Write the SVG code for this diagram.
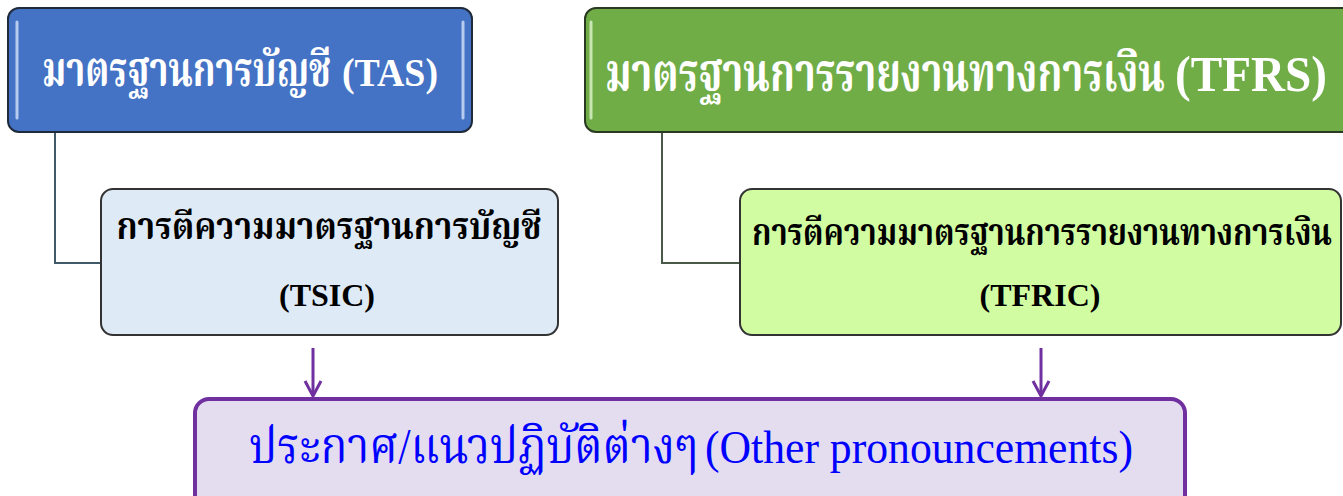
<svg xmlns="http://www.w3.org/2000/svg" width="1343" height="496" viewBox="0 0 1343 496">
<defs>
<style>
.t{font-family:"Liberation Serif","Noto Serif Thai","Noto Sans Thai","DejaVu Serif",serif}
.title{font-weight:bold;fill:#ffffff}
.sub{font-size:32px;font-weight:bold;fill:#000000;text-anchor:middle}
.bot{fill:#0000ff}
.hl{stroke:#c9dcf7;stroke-width:3;stroke-linecap:round;opacity:0.85}
.hlg{stroke:#d8f0c4;stroke-width:3;stroke-linecap:round;opacity:0.85}
.conn{fill:none;stroke-width:2}
</style>
<marker id="chev" viewBox="0 0 20 20" refX="18" refY="10" markerWidth="20" markerHeight="20" markerUnits="userSpaceOnUse" orient="auto">
<path d="M3 2 L18 10 L3 18" fill="none" stroke="#7030a0" stroke-width="3" stroke-linejoin="miter"/>
</marker>
</defs>
<rect width="1343" height="496" fill="#ffffff"/>
<g id="connectors">
<path class="conn" d="M55 132 V263 H101" stroke="#3f5a68"/>
<path class="conn" d="M662 132 V263 H740" stroke="#4a5a48"/>
<line x1="313" y1="348" x2="313" y2="396" stroke="#7030a0" stroke-width="3" marker-end="url(#chev)"/>
<line x1="1041" y1="348" x2="1041" y2="396" stroke="#7030a0" stroke-width="3" marker-end="url(#chev)"/>
</g>
<g id="tas">
<rect x="8" y="8" width="464" height="124" rx="11" fill="#4472c4" stroke="#1f2a3a" stroke-width="2"/>
<line class="hl" x1="17" y1="22" x2="17" y2="118"/>
<line class="hl" x1="463" y1="22" x2="463" y2="118"/>
<text class="t title" y="86"><tspan x="42" style="font-size:48px" textLength="289" lengthAdjust="spacingAndGlyphs">มาตรฐานการบัญชี</tspan><tspan x="342" style="font-size:40px" textLength="96" lengthAdjust="spacingAndGlyphs">(TAS)</tspan></text>
</g>
<g id="tfrs">
<rect x="585" y="8" width="770" height="124" rx="11" fill="#70ad47" stroke="#2a3a22" stroke-width="2"/>
<line class="hlg" x1="591" y1="22" x2="591" y2="118"/>
<text class="t title" y="91"><tspan x="605" style="font-size:54px" textLength="560" lengthAdjust="spacingAndGlyphs">มาตรฐานการรายงานทางการเงิน</tspan><tspan x="1175" style="font-size:50px" textLength="152" lengthAdjust="spacingAndGlyphs">(TFRS)</tspan></text>
</g>
<g id="tsic">
<rect x="101" y="189" width="457" height="146" rx="12" fill="#deeaf6" stroke="#333333" stroke-width="2"/>
<text class="t sub" x="329" y="239" style="font-size:38px" textLength="425" lengthAdjust="spacingAndGlyphs">การตีความมาตรฐานการบัญชี</text>
<text class="t sub" x="327" y="306">(TSIC)</text>
</g>
<g id="tfric">
<rect x="740" y="189" width="601" height="146" rx="12" fill="#d2fca2" stroke="#333333" stroke-width="2"/>
<text class="t sub" x="1042" y="245" style="font-size:38px" textLength="580" lengthAdjust="spacingAndGlyphs">การตีความมาตรฐานการรายงานทางการเงิน</text>
<text class="t sub" x="1040" y="306">(TFRIC)</text>
</g>
<g id="other">
<rect x="195" y="399" width="990" height="110" rx="14" fill="#e4ddf0" stroke="#7030a0" stroke-width="4"/>
<text class="t bot" y="463"><tspan x="249" style="font-size:50px" textLength="449" lengthAdjust="spacingAndGlyphs">ประกาศ/แนวปฏิบัติต่างๆ</tspan><tspan x="705" style="font-size:46px" textLength="428" lengthAdjust="spacingAndGlyphs">(Other pronouncements)</tspan></text>
</g>
</svg>
